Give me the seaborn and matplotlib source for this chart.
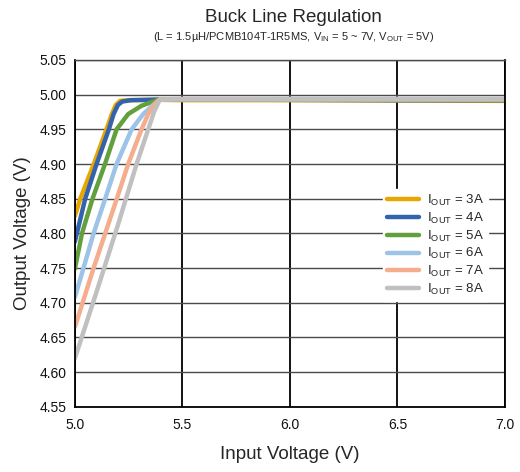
import numpy as np
import pandas as pd
import matplotlib
matplotlib.use("Agg")
import matplotlib.pyplot as plt
import seaborn as sns

# Input voltage sweep and measured output voltage for each load current
currents = ["3A", "4A", "5A", "6A", "7A", "8A"]

vin_3a = [5.0, 5.025, 5.088, 5.147, 5.172, 5.19, 5.21, 5.25, 5.4, 5.5, 6.0, 6.5, 7.0]
vout_3a = [4.825, 4.85, 4.90, 4.95, 4.972, 4.985, 4.991, 4.992, 4.9925, 4.992, 4.992, 4.9915, 4.991]

vin_4a = [5.0, 5.048, 5.101, 5.158, 5.18, 5.2, 5.22, 5.26, 5.4, 5.5, 6.0, 6.5, 7.0]
vout_4a = [4.788, 4.85, 4.90, 4.95, 4.972, 4.985, 4.99, 4.992, 4.993, 4.993, 4.9925, 4.992, 4.992]

vin_5a = [5.0, 5.033, 5.082, 5.14, 5.194, 5.248, 5.31, 5.39, 5.5, 6.0, 6.5, 7.0]
vout_5a = [4.749, 4.80, 4.85, 4.90, 4.95, 4.972, 4.984, 4.993, 4.993, 4.993, 4.9925, 4.9925]

vin_6a = [5.0, 5.04, 5.087, 5.141, 5.194, 5.264, 5.318, 5.364, 5.395, 5.5, 6.0, 6.5, 7.0]
vout_6a = [4.708, 4.75, 4.80, 4.85, 4.90, 4.95, 4.972, 4.985, 4.993, 4.993, 4.993, 4.993, 4.993]

vin_7a = [5.0, 5.087, 5.141, 5.195, 5.248, 5.31, 5.341, 5.37, 5.395, 5.5, 6.0, 6.5, 7.0]
vout_7a = [4.665, 4.75, 4.80, 4.85, 4.90, 4.95, 4.972, 4.986, 4.993, 4.9935, 4.9935, 4.9935, 4.9935]

vin_8a = [5.0, 5.1, 5.2, 5.287, 5.341, 5.368, 5.395, 5.5, 6.0, 6.5, 7.0]
vout_8a = [4.62, 4.715, 4.812, 4.90, 4.95, 4.975, 4.993, 4.994, 4.994, 4.994, 4.994]

colors = ["#E8A600", "#3463AE", "#62A03E", "#9DC3E6", "#F4AE8E", "#C0C0C0"]

x_ticks = [5.0, 5.5, 6.0, 6.5, 7.0]
y_ticks = [4.55, 4.60, 4.65, 4.70, 4.75, 4.80, 4.85, 4.90, 4.95, 5.00, 5.05]

frames = []
for cur, vin, vout in zip(currents,
                          [vin_3a, vin_4a, vin_5a, vin_6a, vin_7a, vin_8a],
                          [vout_3a, vout_4a, vout_5a, vout_6a, vout_7a, vout_8a]):
    label = r"I$_{\mathregular{OUT}}$ = " + cur
    frames.append(pd.DataFrame({"vin": vin, "vout": vout, "load": label}))
df = pd.concat(frames, ignore_index=True)
labels = list(df["load"].unique())

sns.set_style("white")
plt.rcParams["font.family"] = ["Liberation Sans", "DejaVu Sans"]
plt.rcParams["mathtext.fontset"] = "custom"
plt.rcParams["mathtext.rm"] = "Liberation Sans"
plt.rcParams["lines.solid_joinstyle"] = "round"
plt.rcParams["lines.solid_capstyle"] = "round"

fig = plt.figure(figsize=(5.2, 4.72), dpi=100)
ax = fig.add_axes([0.144, 0.138, 0.827, 0.735])

sns.lineplot(data=df, x="vin", y="vout", hue="load", hue_order=labels,
             palette=colors, linewidth=3.2, sort=False, estimator=None,
             ax=ax, legend=True)

ax.set_xlim(5.0, 7.0)
ax.set_ylim(4.55, 5.05)
ax.set_xticks(x_ticks)
ax.set_xticklabels([f"{v:.1f}" for v in x_ticks])
ax.set_yticks(y_ticks)
ax.set_yticklabels([f"{v:.2f}" for v in y_ticks])
ax.tick_params(axis="both", length=0, labelsize=10, colors="#111111")
ax.tick_params(axis="x", pad=8)
ax.tick_params(axis="y", pad=6)

ax.grid(True, axis="y", color="#4a4a4a", linewidth=1.0)
ax.grid(True, axis="x", color="#000000", linewidth=1.3)
ax.set_axisbelow(True)
for side, spine in ax.spines.items():
    spine.set_visible(True)
    spine.set_color("#000000" if side != "top" else "#4a4a4a")
    spine.set_linewidth(1.3 if side != "top" else 1.0)

ax.set_xlabel("Input Voltage (V)", fontsize=13.5, labelpad=10)
ax.set_ylabel("Output Voltage (V)", fontsize=13.5, labelpad=6)

fig.text(0.565, 0.963, "Buck Line Regulation", ha="center", va="center", fontsize=13.5)
fig.text(0.565, 0.922,
         r"(L = 1.5µH/PCMB104T-1R5MS, V$_{\mathregular{IN}}$ = 5 ~ 7V, V$_{\mathregular{OUT}}$ = 5V)",
         ha="center", va="center", fontsize=8)

leg = ax.legend(loc="center right", bbox_to_anchor=(0.975, 0.467), frameon=True,
                fontsize=9.5, handlelength=2.4, handletextpad=0.6, labelspacing=0.2,
                borderpad=0.3)
leg.get_frame().set_facecolor("white")
leg.get_frame().set_edgecolor("white")
leg.get_frame().set_alpha(1.0)
for line in leg.get_lines():
    line.set_linewidth(3.2)

fig.savefig("out.png", dpi=100)
